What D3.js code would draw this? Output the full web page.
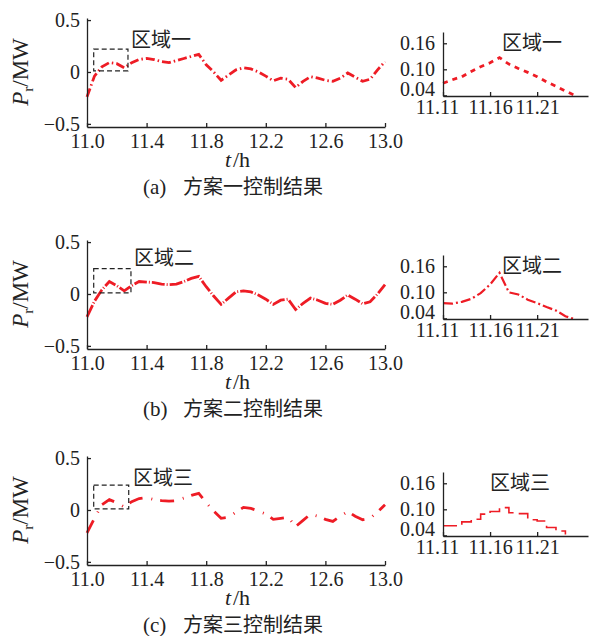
<!DOCTYPE html>
<html>
<head>
<meta charset="utf-8">
<script src="https://cdn.jsdelivr.net/npm/d3@7"></script>
<style>
  body { margin: 0; background: #fff; }
</style>
</head>
<body>
<div class="chart"></div>
<script>
// time axis of the main panels (h)
const times = [11.00, 11.05, 11.10, 11.15, 11.20, 11.25, 11.30, 11.35, 11.40, 11.45,
  11.50, 11.55, 11.60, 11.65, 11.70, 11.75, 11.80, 11.85, 11.90, 11.95,
  12.00, 12.05, 12.10, 12.15, 12.20, 12.25, 12.30, 12.35, 12.40, 12.45,
  12.50, 12.55, 12.60, 12.65, 12.70, 12.75, 12.80, 12.85, 12.90, 12.95, 13.00];

// P_r (MW) for each scheme
const schemeA = [-0.24, -0.04, 0.05, 0.09, 0.08, 0.04, 0.09, 0.12, 0.13, 0.12,
  0.10, 0.09, 0.11, 0.13, 0.15, 0.17, 0.07, 0.00, -0.08, -0.03,
  0.02, 0.04, 0.03, 0.00, -0.04, -0.085, -0.06, -0.07, -0.15, -0.09,
  -0.045, -0.06, -0.08, -0.09, -0.06, -0.01, -0.05, -0.09, -0.07, 0.02, 0.10];
const schemeB = [-0.22, -0.07, 0.04, 0.12, 0.08, 0.03, 0.08, 0.12, 0.115, 0.11,
  0.095, 0.09, 0.095, 0.12, 0.15, 0.17, 0.07, -0.02, -0.10, -0.04,
  0.02, 0.03, 0.02, -0.01, -0.05, -0.10, -0.06, -0.05, -0.15, -0.09,
  -0.04, -0.06, -0.09, -0.10, -0.06, -0.01, -0.05, -0.095, -0.075, 0.00, 0.09];
const schemeC = [-0.22, -0.08, 0.05, 0.10, 0.07, 0.03, 0.08, 0.11, 0.12, 0.10,
  0.09, 0.085, 0.09, 0.115, 0.14, 0.16, 0.07, -0.01, -0.08, -0.07,
  -0.02, 0.025, 0.015, -0.01, -0.04, -0.09, -0.08, -0.07, -0.16, -0.10,
  -0.04, -0.06, -0.09, -0.11, -0.06, -0.015, -0.06, -0.095, -0.08, -0.02, 0.05];

// zoomed regions
const zoomTimes = [11.11, 11.12, 11.13, 11.14, 11.15, 11.16, 11.17, 11.18,
  11.19, 11.20, 11.21, 11.22, 11.23, 11.24, 11.25];
const zoomA = [0.068, 0.076, 0.083, 0.095, 0.106, 0.115, 0.127, 0.112,
  0.102, 0.093, 0.083, 0.071, 0.061, 0.050, 0.040];
const zoomB = [0.075, 0.074, 0.078, 0.085, 0.098, 0.118, 0.145, 0.100,
  0.095, 0.083, 0.075, 0.066, 0.058, 0.045, 0.038];
const zoomC = [0.062, 0.062, 0.071, 0.077, 0.089, 0.095, 0.104, 0.092,
  0.090, 0.076, 0.073, 0.058, 0.050, 0.042, null];

// dashed box around the zoomed region: [t0, t1, p0, p1]
const boxes = [[11.045, 11.275, 0.01, 0.22], [11.045, 11.295, 0.01, 0.245], [11.045, 11.28, 0.01, 0.24]];

const mainXTicks = [11.0, 11.4, 11.8, 12.2, 12.6, 13.0];
const mainYTicks = [0.5, 0, -0.5];
const zoomXTicks = [11.11, 11.16, 11.21];
const zoomYTicks = [0.16, 0.10, 0.04];
const letters = ["(a)", "(b)", "(c)"];
const captions = ["方案一控制结果", "方案二控制结果", "方案三控制结果"];
const regions = ["区域一", "区域二", "区域三"];

let dims = { height: 636, width: 590 };
const serif = '"Liberation Serif"';
const cjk = '"Noto Sans CJK SC"';
const red = "#ee1c25";
const ink = "#222";

let svg = d3
  .select(".chart")
  .append("svg")
  .attr("height", dims.height)
  .attr("width", dims.width);

let x = d3.scaleLinear().domain([11, 13]).range([87, 385]);
let y = d3.scaleLinear().domain([-0.53, 0.52]).range([127, 18]);
let zx = d3.scaleLinear().domain([11.11, 11.264]).range([443, 588]);
let zy = d3.scaleLinear().domain([0.0385, 0.186]).range([96, 32]);

const panels = [
  { vals: schemeA, zoom: zoomA, off: 0, zoff: 0, dash: "9 3 1.5 3", labelX: 131, labelY: 47, zlabelX: 502 },
  { vals: schemeB, zoom: zoomB, off: 222, zoff: 223, dash: "13 2 1 2", labelX: 134, labelY: 43, zlabelX: 502 },
  { vals: schemeC, zoom: zoomC, off: 438, zoff: 440, dash: "14 9 1 8", labelX: 133, labelY: 47, zlabelX: 490 }
];

let styleAxis = (g) => {
  g.attr("font-family", null).attr("font-size", null);
  g.selectAll("path, line").attr("stroke", ink).attr("stroke-width", 1.3);
  g.selectAll("text").attr("fill", ink).style("font-size", "20px").style("font-family", serif);
};

panels.forEach((p, i) => {
  let g = svg.append("g").attr("transform", `translate(0, ${p.off})`);

  // main curve
  let line = d3.line().x((d, k) => x(times[k])).y((d) => y(d));
  g.append("path")
    .datum(p.vals)
    .attr("d", line)
    .attr("fill", "none")
    .attr("stroke", red)
    .attr("stroke-width", 2.8)
    .attr("stroke-dasharray", p.dash);

  // axes
  g.append("g")
    .attr("transform", `translate(0, ${y.range()[0]})`)
    .call(d3.axisBottom(x).tickValues(mainXTicks).tickSizeInner(-4).tickSizeOuter(0)
      .tickPadding(7).tickFormat(d3.format(".1f")))
    .call(styleAxis);

  g.append("g")
    .attr("transform", `translate(${x.range()[0]}, 0)`)
    .call(d3.axisLeft(y).tickValues(mainYTicks).tickSizeInner(-4).tickSizeOuter(0)
      .tickPadding(7).tickFormat((d) => (d === 0 ? "0" : d3.format(".1f")(d))))
    .call(styleAxis);

  // dashed box + region name
  let b = boxes[i];
  g.append("rect")
    .attr("x", x(b[0]))
    .attr("y", y(b[3]))
    .attr("width", x(b[1]) - x(b[0]))
    .attr("height", y(b[2]) - y(b[3]))
    .attr("fill", "none")
    .attr("stroke", ink)
    .attr("stroke-width", 1.2)
    .attr("stroke-dasharray", "5 3");

  g.append("text")
    .attr("x", p.labelX)
    .attr("y", p.labelY)
    .style("font-family", cjk)
    .style("font-size", "20px")
    .attr("fill", ink)
    .text(regions[i]);

  // axis titles
  let yl = g.append("text")
    .attr("transform", `translate(28, 72) rotate(-90)`)
    .attr("text-anchor", "middle")
    .style("font-family", serif)
    .style("font-size", "23px")
    .attr("fill", ink);
  yl.append("tspan").style("font-style", "italic").text("P");
  yl.append("tspan").attr("dy", 5).style("font-size", "15px").text("r");
  yl.append("tspan").attr("dy", -5).text("/MW");

  g.append("text")
    .attr("x", 225)
    .attr("y", 167)
    .style("font-family", serif)
    .style("font-size", "22px")
    .style("font-style", "italic")
    .attr("fill", ink)
    .text("t");
  g.append("text")
    .attr("x", 233)
    .attr("y", 167)
    .style("font-family", serif)
    .style("font-size", "22px")
    .attr("fill", ink)
    .text("/h");

  g.append("text")
    .attr("x", 143)
    .attr("y", 194)
    .style("font-family", serif)
    .style("font-size", "21px")
    .attr("fill", ink)
    .text(letters[i]);
  g.append("text")
    .attr("x", 183)
    .attr("y", 194)
    .style("font-family", cjk)
    .style("font-size", "20px")
    .attr("fill", ink)
    .text(captions[i]);

  // zoomed inset
  let z = svg.append("g").attr("transform", `translate(0, ${p.zoff})`);
  let zline = d3.line()
    .defined((d) => d !== null)
    .x((d, k) => zx(zoomTimes[k]))
    .y((d) => zy(d));
  if (i === 2) zline.curve(d3.curveStepAfter);

  z.append("path")
    .datum(p.zoom)
    .attr("d", zline)
    .attr("fill", "none")
    .attr("stroke", red)
    .attr("stroke-width", i === 0 ? 2.8 : i === 1 ? 2.2 : 1.6)
    .attr("stroke-dasharray", i === 0 ? "5 5" : i === 1 ? "10 3 2 3" : "14 6");

  z.append("g")
    .attr("transform", `translate(0, ${zy.range()[0]})`)
    .call(d3.axisBottom(zx).tickValues(zoomXTicks).tickSizeInner(-4).tickSizeOuter(0)
      .tickPadding(4).tickFormat(d3.format(".2f")))
    .call(styleAxis)
    .call((ax) => ax.selectAll(".tick").filter((d) => d === 11.11).select("text").attr("dx", -6));

  z.append("g")
    .attr("transform", `translate(${zx.range()[0]}, 0)`)
    .call(d3.axisLeft(zy).tickValues(zoomYTicks).tickSizeInner(-4).tickSizeOuter(0)
      .tickPadding(8).tickFormat(d3.format(".2f")))
    .call(styleAxis)
    .call((ax) => ax.selectAll(".tick").filter((d) => d === 0.04).select("text").attr("y", -6));

  z.append("text")
    .attr("x", p.zlabelX)
    .attr("y", 50)
    .style("font-family", cjk)
    .style("font-size", "20px")
    .attr("fill", ink)
    .text(regions[i]);
});
</script>
</body>
</html>
